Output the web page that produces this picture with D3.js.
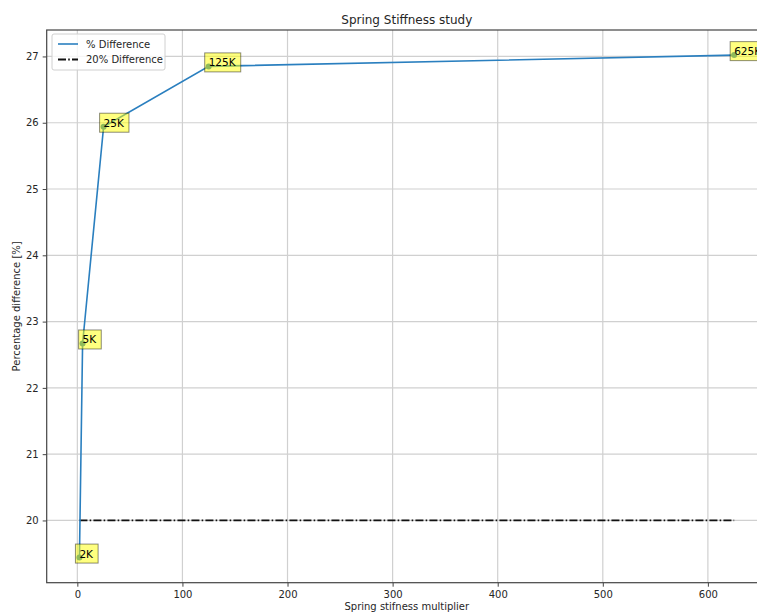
<!DOCTYPE html>
<html>
<head>
<meta charset="utf-8">
<script src="https://cdn.jsdelivr.net/npm/d3@7"></script>
<style>
  html, body { margin: 0; padding: 0; background: #fff; }
  svg { display: block; font-family: "DejaVu Sans", sans-serif; }
</style>
</head>
<body>
<svg id="chart" width="757" height="613"></svg>
<script>
// Spring stiffness study: percentage difference versus stiffness multiplier
const multipliers = [2, 5, 25, 125, 625];
const pctDifference = [19.44, 22.67, 25.94, 26.85, 27.02];
const pointLabels = ["2K", "5K", "25K", "125K", "625K"];
const referenceLevel = 20;
const xTicks = [0, 100, 200, 300, 400, 500, 600];
const yTicks = [20, 21, 22, 23, 24, 25, 26, 27];

const svg = d3.select("#chart");
const plot = { left: 46.7, right: 766.9, top: 30, bottom: 582.7 };

// Axis limits with 5% padding around the data range
const xExt = [d3.min(multipliers), d3.max(multipliers)];
const xPad = (xExt[1] - xExt[0]) * 0.05;
const yExt = [d3.min(pctDifference), d3.max(pctDifference)];
const yPad = (yExt[1] - yExt[0]) * 0.05;

const x = d3.scaleLinear().domain([xExt[0] - xPad, xExt[1] + xPad]).range([plot.left, plot.right]);
const y = d3.scaleLinear().domain([yExt[0] - yPad, yExt[1] + yPad]).range([plot.bottom, plot.top]);

const textCol = "#262626";

// Grid
const grid = svg.append("g");
grid.selectAll(".vx").data(xTicks).join("line")
  .attr("x1", d => x(d)).attr("x2", d => x(d))
  .attr("y1", plot.top).attr("y2", plot.bottom)
  .attr("stroke", "#d0d0d0").attr("stroke-width", 1.2);
grid.selectAll(".hy").data(yTicks).join("line")
  .attr("x1", plot.left).attr("x2", plot.right)
  .attr("y1", d => y(d)).attr("y2", d => y(d))
  .attr("stroke", "#d0d0d0").attr("stroke-width", 1.2);

// Axes
const xAxis = d3.axisBottom(x).tickValues(xTicks).tickSize(4).tickPadding(4).tickFormat(d3.format("d"));
const yAxis = d3.axisLeft(y).tickValues(yTicks).tickSize(4).tickPadding(4).tickFormat(d3.format("d"));

const gx = svg.append("g").attr("transform", `translate(0,${plot.bottom})`).call(xAxis);
const gy = svg.append("g").attr("transform", `translate(${plot.left},0)`).call(yAxis);
[gx, gy].forEach(g => {
  g.select(".domain").remove();
  g.selectAll(".tick line").attr("stroke", "#444").attr("stroke-width", 1);
  g.selectAll(".tick text").attr("fill", textCol)
    .style("font-family", "'DejaVu Sans', sans-serif").style("font-size", "10px");
});

// Frame
svg.append("rect")
  .attr("x", plot.left).attr("y", plot.top)
  .attr("width", plot.right - plot.left).attr("height", plot.bottom - plot.top)
  .attr("fill", "none").attr("stroke", "#444").attr("stroke-width", 1.2);

// Reference line at 20 %
svg.append("line")
  .attr("x1", x(xExt[0])).attr("x2", x(xExt[1]))
  .attr("y1", y(referenceLevel)).attr("y2", y(referenceLevel))
  .attr("stroke", "#111").attr("stroke-width", 1.8)
  .attr("stroke-dasharray", "8,2.2,1.6,2.2");

// Percentage difference series
const pts = multipliers.map((m, i) => ({ x: m, y: pctDifference[i], label: pointLabels[i] }));
svg.append("path")
  .datum(pts)
  .attr("fill", "none").attr("stroke", "#2a7fbf").attr("stroke-width", 1.6)
  .attr("d", d3.line().x(d => x(d.x)).y(d => y(d.y)));
svg.selectAll(".pt").data(pts).join("circle")
  .attr("cx", d => x(d.x)).attr("cy", d => y(d.y)).attr("r", 3)
  .attr("fill", "#1f77b4");

// Point labels in translucent yellow boxes
const ann = svg.append("g");
pts.forEach(d => {
  const g = ann.append("g");
  const t = g.append("text")
    .attr("x", x(d.x)).attr("y", y(d.y))
    .attr("fill", "#000").style("font-size", "10.5px")
    .text(d.label);
  const bb = t.node().getBBox();
  const pad = 4;
  g.insert("rect", "text")
    .attr("x", bb.x - pad).attr("y", bb.y - pad + 0.5)
    .attr("width", bb.width + 2 * pad).attr("height", bb.height + 2 * pad - 1)
    .attr("fill", "yellow").attr("fill-opacity", 0.5)
    .attr("stroke", "#000").attr("stroke-opacity", 0.45).attr("stroke-width", 1);
});

// Title and axis labels
svg.append("text")
  .attr("x", (plot.left + plot.right) / 2).attr("y", 24)
  .attr("text-anchor", "middle").attr("fill", textCol).style("font-size", "12px")
  .text("Spring Stiffness study");
svg.append("text")
  .attr("x", (plot.left + plot.right) / 2).attr("y", 610)
  .attr("text-anchor", "middle").attr("fill", textCol).style("font-size", "10px")
  .text("Spring stifness multiplier");
svg.append("text")
  .attr("transform", `translate(20,${(plot.top + plot.bottom) / 2}) rotate(-90)`)
  .attr("text-anchor", "middle").attr("fill", textCol).style("font-size", "10px")
  .text("Percentage difference [%]");

// Legend
const lg = svg.append("g").attr("transform", "translate(52,34)");
lg.append("rect")
  .attr("width", 113).attr("height", 36).attr("rx", 2)
  .attr("fill", "#fff").attr("fill-opacity", 0.8)
  .attr("stroke", "#d0d0d0").attr("stroke-width", 1);
const legendItems = [
  { name: "% Difference", color: "#2a7fbf", dash: null, w: 1.6 },
  { name: "20% Difference", color: "#111", dash: "8,2.2,1.6,2.2", w: 1.8 }
];
legendItems.forEach((it, i) => {
  const yy = 10 + i * 15.5;
  lg.append("line")
    .attr("x1", 6).attr("x2", 26).attr("y1", yy).attr("y2", yy)
    .attr("stroke", it.color).attr("stroke-width", it.w)
    .attr("stroke-dasharray", it.dash);
  lg.append("text")
    .attr("x", 34).attr("y", yy + 3.7)
    .attr("fill", textCol).style("font-size", "10px")
    .text(it.name);
});
</script>
</body>
</html>
